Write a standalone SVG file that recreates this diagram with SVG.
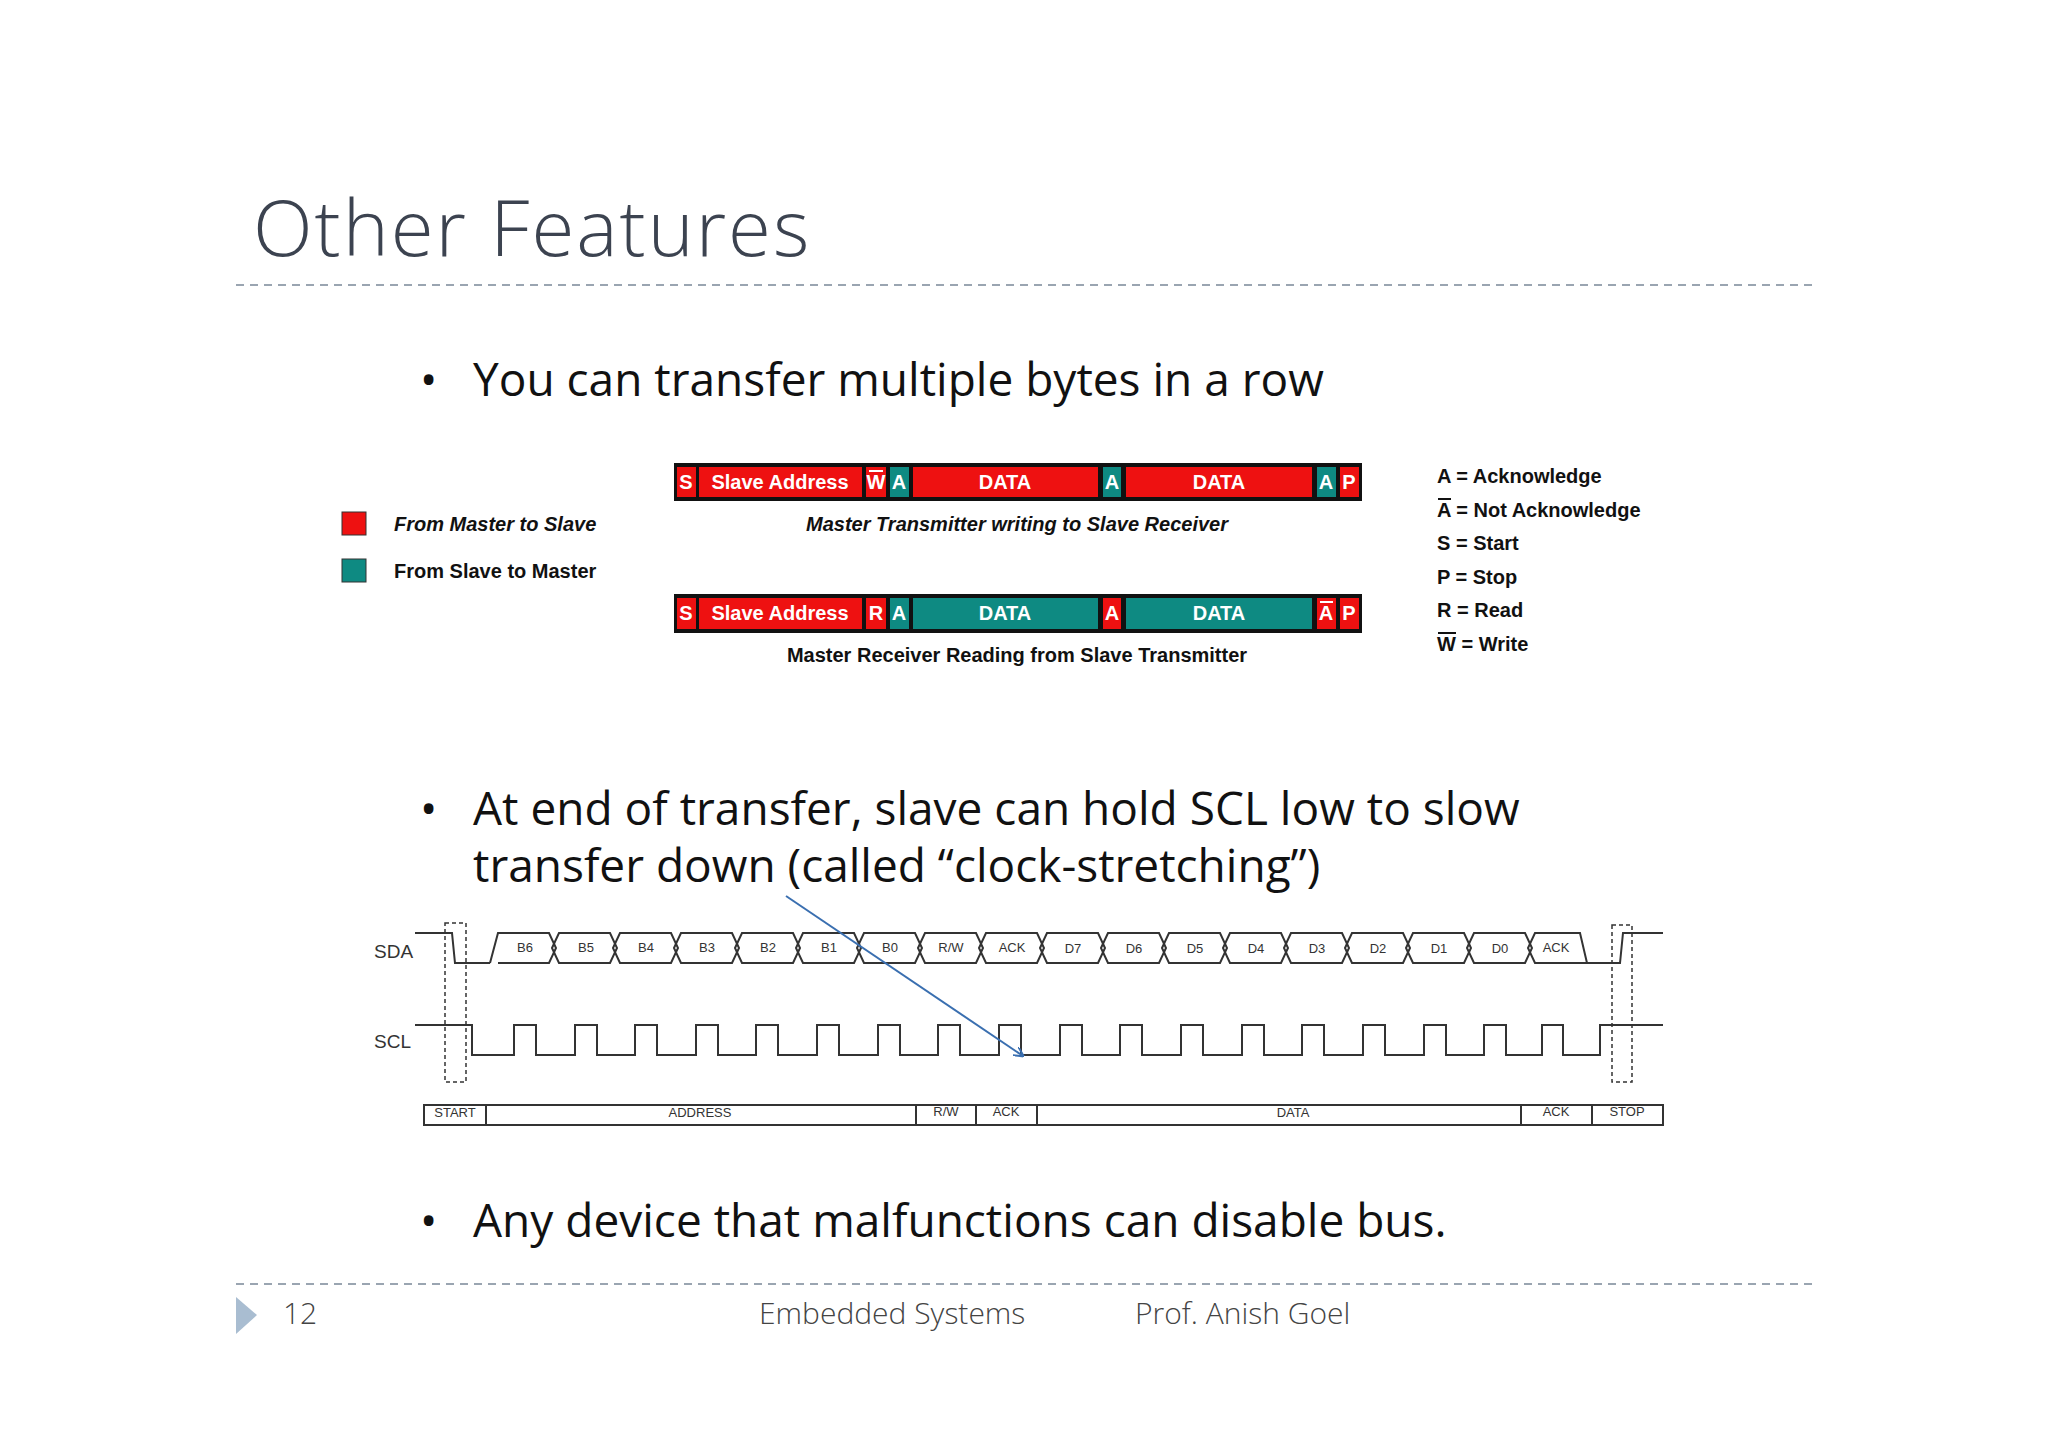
<svg xmlns="http://www.w3.org/2000/svg" width="2048" height="1447" viewBox="0 0 2048 1447">
<style>
.dash{stroke:#9aa5b1;stroke-width:2;stroke-dasharray:8 6;fill:none}
.big{font-family:"Open Sans","Liberation Sans",sans-serif;font-size:46px;fill:#111}
.r{fill:#ee1111}.t{fill:#0e8a82}
.seg{font-family:"Liberation Sans",Arial,sans-serif;font-size:20px;font-weight:bold;fill:#fff;text-anchor:middle}
.cap{font-family:"Liberation Sans",Arial,sans-serif;font-size:20px;font-weight:bold;fill:#111;text-anchor:middle}
.leg{font-family:"Liberation Sans",Arial,sans-serif;font-size:20px;font-weight:bold;fill:#111}
.w{stroke:#333;stroke-width:2;fill:none}
.cell{font-family:"Liberation Sans",Arial,sans-serif;font-size:13px;fill:#333;text-anchor:middle}
.foot{font-family:"Open Sans","Liberation Sans",sans-serif;font-size:30px;font-weight:300;fill:#444}
</style>
<defs><marker id="ah" markerWidth="10" markerHeight="10" refX="9" refY="5" orient="auto" markerUnits="userSpaceOnUse"><path d="M0,0 L10,5 L0,10" fill="none" stroke="#3a6fb0" stroke-width="2"/></marker></defs>
<rect width="2048" height="1447" fill="#fff"/>
<text x="253" y="256" font-family="'Open Sans','Liberation Sans',sans-serif" font-size="78" font-weight="300" fill="#3c4350" letter-spacing="2">Other Features</text>
<line class="dash" x1="236" y1="285" x2="1813" y2="285"/>
<text class="big" x="420" y="396">•</text><text class="big" x="473" y="396">You can transfer multiple bytes in a row</text>

<g id="legend-left">
<rect x="342" y="512" width="24" height="23" class="r" stroke="#333"/>
<text class="leg" x="394" y="531" font-style="italic">From Master to Slave</text>
<rect x="342" y="559" width="24" height="23" class="t" stroke="#333"/>
<text class="leg" x="394" y="578">From Slave to Master</text>
</g>

<g id="packet-write">
<rect x="674" y="463" width="688" height="38" fill="#111"/>
<rect class="r" x="677" y="467" width="19" height="30"/><text class="seg" x="686" y="489">S</text>
<rect class="r" x="699" y="467" width="163" height="30"/><text class="seg" x="780" y="489">Slave Address</text>
<rect class="r" x="866" y="467" width="20" height="30"/><text class="seg" x="876" y="489">W</text><line x1="869" y1="471" x2="883" y2="471" stroke="#fff" stroke-width="2"/>
<rect class="t" x="890" y="467" width="19" height="30"/><text class="seg" x="899" y="489">A</text>
<rect class="r" x="913" y="467" width="185" height="30"/><text class="seg" x="1005" y="489">DATA</text>
<rect class="t" x="1103" y="467" width="18" height="30"/><text class="seg" x="1112" y="489">A</text>
<rect class="r" x="1126" y="467" width="186" height="30"/><text class="seg" x="1219" y="489">DATA</text>
<rect class="t" x="1317" y="467" width="19" height="30"/><text class="seg" x="1326" y="489">A</text>
<rect class="r" x="1340" y="467" width="19" height="30"/><text class="seg" x="1349" y="489">P</text>
<text class="cap" x="1017" y="531" font-style="italic">Master Transmitter writing to Slave Receiver</text>
</g>

<g id="packet-read">
<rect x="674" y="594" width="688" height="39" fill="#111"/>
<rect class="r" x="677" y="598" width="19" height="31"/><text class="seg" x="686" y="620">S</text>
<rect class="r" x="699" y="598" width="163" height="31"/><text class="seg" x="780" y="620">Slave Address</text>
<rect class="r" x="866" y="598" width="20" height="31"/><text class="seg" x="876" y="620">R</text>
<rect class="t" x="890" y="598" width="19" height="31"/><text class="seg" x="899" y="620">A</text>
<rect class="t" x="913" y="598" width="185" height="31"/><text class="seg" x="1005" y="620">DATA</text>
<rect class="r" x="1103" y="598" width="18" height="31"/><text class="seg" x="1112" y="620">A</text>
<rect class="t" x="1126" y="598" width="186" height="31"/><text class="seg" x="1219" y="620">DATA</text>
<rect class="r" x="1317" y="598" width="19" height="31"/><text class="seg" x="1326" y="620">A</text><line x1="1320" y1="602" x2="1333" y2="602" stroke="#fff" stroke-width="2"/>
<rect class="r" x="1340" y="598" width="19" height="31"/><text class="seg" x="1349" y="620">P</text>
<text class="cap" x="1017" y="662">Master Receiver Reading from Slave Transmitter</text>
</g>

<g id="legend-right" class="leg">
<text x="1437" y="483">A = Acknowledge</text>
<text x="1437" y="517">A = Not Acknowledge</text><line x1="1438" y1="499" x2="1451" y2="499" stroke="#111" stroke-width="2"/>
<text x="1437" y="550">S = Start</text>
<text x="1437" y="584">P = Stop</text>
<text x="1437" y="617">R = Read</text>
<text x="1437" y="651">W = Write</text><line x1="1438" y1="633" x2="1456" y2="633" stroke="#111" stroke-width="2"/>
</g>

<text class="big" x="420" y="825">•</text><text class="big" x="473" y="825">At end of transfer, slave can hold SCL low to slow</text>
<text class="big" x="473" y="882">transfer down (called “clock-stretching”)</text>

<g id="timing">
<text x="374" y="958" font-family="'Liberation Sans',Arial,sans-serif" font-size="19" fill="#333">SDA</text>
<text x="374" y="1048" font-family="'Liberation Sans',Arial,sans-serif" font-size="19" fill="#333">SCL</text>
<path class="w" d="M415,933 H452 L455,963 H490"/>
<path class="w" d="M1587,963 H1620 L1623,933 H1663"/>
<path class="w" d="M415,1025 H472 V1055 H514 V1025 H536 V1055 H575 V1025 H597 V1055 H635 V1025 H657 V1055 H696 V1025 H718 V1055 H756 V1025 H778 V1055 H817 V1025 H839 V1055 H878 V1025 H900 V1055 H938 V1025 H960 V1055 H999 V1025 H1021 V1055 H1060 V1025 H1082 V1055 H1120 V1025 H1142 V1055 H1181 V1025 H1203 V1055 H1242 V1025 H1264 V1055 H1302 V1025 H1324 V1055 H1363 V1025 H1385 V1055 H1424 V1025 H1446 V1055 H1484 V1025 H1506 V1055 H1542 V1025 H1563 V1055 H1600 V1025 H1663"/>
<rect x="445" y="923" width="21" height="159" fill="none" stroke="#333" stroke-width="1.5" stroke-dasharray="4 3"/>
<rect x="1612" y="925" width="20" height="157" fill="none" stroke="#333" stroke-width="1.5" stroke-dasharray="4 3"/>
</g>
<g id="sda-cells" class="w">
<path d="M490,963 L498,933 H549 L556,948 L549,963 H498"/><path d="M552,948 L559,933 H610 L617,948 L610,963 H559 Z"/>
<path d="M613,948 L620,933 H671 L678,948 L671,963 H620 Z"/><path d="M674,948 L681,933 H732 L739,948 L732,963 H681 Z"/>
<path d="M735,948 L742,933 H793 L800,948 L793,963 H742 Z"/><path d="M796,948 L803,933 H854 L861,948 L854,963 H803 Z"/>
<path d="M857,948 L864,933 H915 L922,948 L915,963 H864 Z"/><path d="M918,948 L925,933 H976 L983,948 L976,963 H925 Z"/>
<path d="M979,948 L986,933 H1037 L1044,948 L1037,963 H986 Z"/><path d="M1040,948 L1047,933 H1098 L1105,948 L1098,963 H1047 Z"/>
<path d="M1101,948 L1108,933 H1159 L1166,948 L1159,963 H1108 Z"/><path d="M1162,948 L1169,933 H1220 L1227,948 L1220,963 H1169 Z"/>
<path d="M1223,948 L1230,933 H1281 L1288,948 L1281,963 H1230 Z"/><path d="M1284,948 L1291,933 H1342 L1349,948 L1342,963 H1291 Z"/>
<path d="M1345,948 L1352,933 H1403 L1410,948 L1403,963 H1352 Z"/><path d="M1406,948 L1413,933 H1464 L1471,948 L1464,963 H1413 Z"/>
<path d="M1467,948 L1474,933 H1525 L1532,948 L1525,963 H1474 Z"/><path d="M1587,963 L1580,933 H1535 L1528,948 L1535,963 H1587"/>
</g>
<g id="cell-labels" class="cell">
<text x="525" y="952">B6</text><text x="586" y="952">B5</text><text x="646" y="952">B4</text><text x="707" y="952">B3</text><text x="768" y="952">B2</text><text x="829" y="952">B1</text><text x="890" y="952">B0</text><text x="951" y="952">R/W</text><text x="1012" y="952">ACK</text><text x="1073" y="953">D7</text><text x="1134" y="953">D6</text><text x="1195" y="953">D5</text><text x="1256" y="953">D4</text><text x="1317" y="953">D3</text><text x="1378" y="953">D2</text><text x="1439" y="953">D1</text><text x="1500" y="953">D0</text><text x="1556" y="952">ACK</text>
</g>
<g id="phase-bar">
<rect x="424" y="1105" width="1239" height="20" fill="none" stroke="#333" stroke-width="2"/>
<path class="w" d="M486,1105 V1125 M916,1105 V1125 M976,1105 V1125 M1037,1105 V1125 M1521,1105 V1125 M1592,1105 V1125"/>
<g class="cell"><text x="455" y="1117">START</text><text x="700" y="1117">ADDRESS</text><text x="946" y="1116">R/W</text><text x="1006" y="1116">ACK</text><text x="1293" y="1117">DATA</text><text x="1556" y="1116">ACK</text><text x="1627" y="1116">STOP</text></g>
</g>
<g id="connectors"><line x1="786" y1="896" x2="1023" y2="1056" stroke="#3a6fb0" stroke-width="2" marker-end="url(#ah)"/></g>

<text class="big" x="420" y="1237">•</text><text class="big" x="473" y="1237">Any device that malfunctions can disable bus.</text>
<line class="dash" x1="236" y1="1284" x2="1813" y2="1284"/>
<path d="M236,1297 L257,1315 L236,1334 Z" fill="#a9bdd1"/>
<text class="foot" x="283" y="1324">12</text>
<text class="foot" x="759" y="1324">Embedded Systems</text>
<text class="foot" x="1135" y="1324">Prof. Anish Goel</text>
</svg>
